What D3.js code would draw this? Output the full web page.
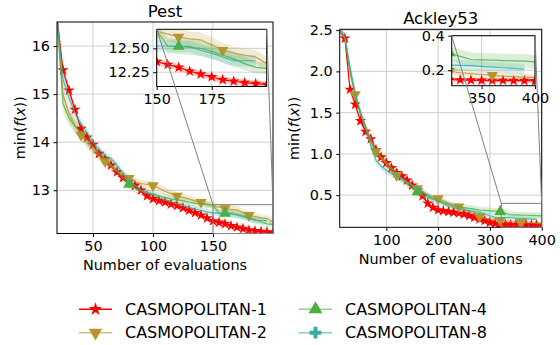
<!DOCTYPE html>
<html lang="en">
<head>
<meta charset="UTF-8">
<title>CASMOPOLITAN batch sizes</title>
<script src="https://cdn.jsdelivr.net/npm/d3@7"></script>
<style>
    body { margin: 0; background: #fff; }
    svg { display: block; font-family: "DejaVu Sans", sans-serif; }
    .tick text { font-size: 14.4px; fill: #000; }
    .tick line { stroke: #000; }
</style>
</head>
<body>
<script>
// ---- Pest: evaluations and mean of min f(x) for each batch size ----
const pestX = [20, 25, 30, 35, 40, 45, 50, 55, 60, 65, 70, 75, 80, 85, 90, 95, 100, 105, 110, 115,
    120, 125, 130, 135, 140, 145, 150, 155, 160, 165, 170, 175, 180, 185, 190, 195, 200];
const pestB1 = [16.6, 15.5, 15.08, 14.68, 14.28, 14.1, 13.95, 13.76, 13.65, 13.52, 13.38, 13.26, 13.18, 13.1, 13.0, 12.88, 12.82, 12.78, 12.75, 12.71,
    12.68, 12.63, 12.58, 12.53, 12.48, 12.42, 12.36, 12.33, 12.3, 12.26, 12.23, 12.2, 12.17, 12.155, 12.14, 12.13, 12.12];
const pestB2 = [16.6, 15.0, 14.6, 14.35, 14.15, 13.98, 13.85, 13.72, 13.6, 13.5, 13.4, 13.32, 13.25, 13.18, 13.14, 13.12, 13.1, 13.04, 12.98, 12.93,
    12.88, 12.85, 12.82, 12.78, 12.75, 12.71, 12.68, 12.65, 12.62, 12.6, 12.59, 12.535, 12.48, 12.45, 12.43, 12.41, 12.34];
const pestB4 = [16.6, 14.8, 14.5, 14.33, 14.2, 14.05, 13.9, 13.77, 13.65, 13.53, 13.42, 13.25, 13.12, 13.04, 12.98, 12.95, 12.92, 12.88, 12.85, 12.82,
    12.8, 12.78, 12.75, 12.73, 12.72, 12.7, 12.685, 12.525, 12.52, 12.51, 12.5, 12.47, 12.43, 12.39, 12.34, 12.3, 12.29];
const pestB8 = [16.6, 15.3, 14.92, 14.6, 14.38, 14.2, 14.0, 13.85, 13.72, 13.66, 13.52, 13.35, 13.22, 13.1, 13.0, 12.95, 12.9, 12.85, 12.8, 12.76,
    12.72, 12.68, 12.65, 12.61, 12.58, 12.55, 12.525, 12.525, 12.52, 12.52, 12.48, 12.45, 12.41, 12.37, 12.37, 12.37, null];
// half widths of the shaded bands
const pestErr1 = [0.1, 0.1, 0.09, 0.08, 0.08, 0.07, 0.06, 0.06, 0.05, 0.05, 0.05, 0.05, 0.04, 0.04, 0.04, 0.04, 0.04, 0.04, 0.04, 0.04,
    0.04, 0.04, 0.035, 0.035, 0.035, 0.035, 0.035, 0.035, 0.035, 0.035, 0.035, 0.035, 0.035, 0.035, 0.035, 0.035, 0.035];
const pestErr2 = [0.2, 0.18, 0.16, 0.14, 0.12, 0.11, 0.1, 0.1, 0.09, 0.09, 0.08, 0.08, 0.08, 0.08, 0.08, 0.08, 0.08, 0.08, 0.08, 0.08,
    0.08, 0.08, 0.07, 0.07, 0.07, 0.07, 0.07, 0.07, 0.08, 0.08, 0.08, 0.08, 0.08, 0.07, 0.07, 0.07, 0.07];
const pestErr4 = [0.2, 0.18, 0.16, 0.14, 0.13, 0.12, 0.11, 0.1, 0.1, 0.1, 0.1, 0.1, 0.09, 0.09, 0.08, 0.08, 0.08, 0.07, 0.07, 0.07,
    0.07, 0.07, 0.07, 0.07, 0.07, 0.07, 0.07, 0.08, 0.08, 0.08, 0.08, 0.08, 0.08, 0.08, 0.07, 0.06, 0.06];
const pestErr8 = [0.15, 0.14, 0.12, 0.11, 0.1, 0.09, 0.08, 0.08, 0.08, 0.08, 0.08, 0.07, 0.07, 0.07, 0.06, 0.06, 0.06, 0.06, 0.06, 0.06,
    0.06, 0.06, 0.06, 0.06, 0.06, 0.06, 0.06, 0.06, 0.06, 0.06, 0.06, 0.06, 0.06, 0.06, 0.06, 0.06, null];

// ---- Ackley53 ----
const ackX = [10, 20, 30, 40, 50, 60, 70, 80, 90, 100, 110, 120, 130, 140, 150, 160, 170, 180, 190, 200,
    210, 220, 230, 240, 250, 260, 270, 280, 290, 300, 310, 320, 330, 340, 350, 360, 370, 380, 390, 400];
const ackB1 = [2.5, 2.4, 1.78, 1.6, 1.4, 1.27, 1.18, 1.05, 0.96, 0.89, 0.83, 0.77, 0.73, 0.68, 0.62, 0.56, 0.49, 0.4, 0.35, 0.32,
    0.31, 0.3, 0.29, 0.28, 0.27, 0.25, 0.23, 0.21, 0.19, 0.17, 0.155, 0.145, 0.143, 0.142, 0.141, 0.14, 0.14, 0.139, 0.139, 0.138];
const ackB2 = [2.5, 2.4, 2.0, 1.72, 1.5, 1.33, 1.18, 1.03, 0.95, 0.88, 0.8, 0.74, 0.7, 0.66, 0.62, 0.58, 0.54, 0.5, 0.47, 0.46,
    0.43, 0.4, 0.38, 0.36, 0.33, 0.3, 0.27, 0.24, 0.22, 0.21, 0.2, 0.195, 0.185, 0.18, 0.175, 0.17, 0.165, 0.163, 0.16, 0.158];
const ackB4 = [2.5, 2.4, 2.0, 1.7, 1.5, 1.32, 1.15, 1.02, 0.96, 0.9, 0.83, 0.76, 0.7, 0.64, 0.58, 0.54, 0.5, 0.47, 0.45, 0.43,
    0.41, 0.39, 0.37, 0.36, 0.35, 0.34, 0.33, 0.32, 0.315, 0.31, 0.305, 0.3, 0.28, 0.262, 0.26, 0.258, 0.256, 0.254, 0.252, 0.248];
const ackB8 = [2.5, 2.42, 2.05, 1.72, 1.5, 1.3, 1.1, 0.92, 0.85, 0.8, 0.76, 0.73, 0.7, 0.66, 0.62, 0.58, 0.54, 0.5, 0.46, 0.43,
    0.4, 0.37, 0.35, 0.33, 0.32, 0.31, 0.3, 0.29, 0.27, 0.25, 0.23, 0.229, 0.228, 0.226, 0.222, 0.218, 0.214, 0.21, 0.206, null];
const ackErr1 = [0.03, 0.05, 0.05, 0.05, 0.04, 0.04, 0.04, 0.04, 0.03, 0.03, 0.03, 0.03, 0.03, 0.03, 0.03, 0.03, 0.03, 0.02, 0.02, 0.02,
    0.02, 0.02, 0.02, 0.02, 0.02, 0.02, 0.015, 0.015, 0.015, 0.012, 0.012, 0.012, 0.012, 0.012, 0.012, 0.012, 0.012, 0.012, 0.012, 0.012];
const ackErr2 = [0.03, 0.06, 0.06, 0.06, 0.05, 0.05, 0.05, 0.05, 0.04, 0.04, 0.04, 0.04, 0.04, 0.04, 0.03, 0.03, 0.03, 0.03, 0.03, 0.03,
    0.03, 0.03, 0.03, 0.03, 0.03, 0.025, 0.025, 0.025, 0.02, 0.02, 0.02, 0.02, 0.02, 0.02, 0.02, 0.02, 0.02, 0.02, 0.02, 0.02];
const ackErr4 = [0.03, 0.06, 0.06, 0.06, 0.06, 0.05, 0.05, 0.05, 0.05, 0.05, 0.05, 0.05, 0.05, 0.05, 0.04, 0.04, 0.04, 0.04, 0.04, 0.04,
    0.04, 0.04, 0.04, 0.04, 0.04, 0.04, 0.04, 0.04, 0.04, 0.04, 0.04, 0.04, 0.04, 0.04, 0.04, 0.04, 0.04, 0.04, 0.04, 0.04];
const ackErr8 = [0.03, 0.06, 0.06, 0.06, 0.05, 0.05, 0.05, 0.05, 0.05, 0.05, 0.04, 0.04, 0.04, 0.04, 0.04, 0.04, 0.04, 0.04, 0.03, 0.03,
    0.03, 0.03, 0.03, 0.03, 0.03, 0.03, 0.03, 0.03, 0.03, 0.03, 0.03, 0.03, 0.03, 0.03, 0.03, 0.03, 0.03, 0.03, 0.03, null];

// x positions that carry a marker
const pestMarks1 = [25, 30, 35, 40, 45, 50, 55, 60, 65, 70, 75, 80, 85, 90, 95, 100, 105, 110, 115, 120,
    125, 130, 135, 140, 145, 150, 155, 160, 165, 170, 175, 180, 185, 190, 195, 200];
const pestMarks2 = [40, 60, 80, 100, 120, 140, 160, 180];
const pestMarks4 = [80, 160];
const ackMarks1 = [20, 30, 40, 50, 60, 70, 80, 90, 100, 110, 120, 130, 140, 150, 160, 170, 180, 190, 200,
    210, 220, 230, 240, 250, 260, 270, 280, 290, 300, 310, 320, 330, 340, 350, 360, 370, 380, 390, 400];
const ackMarks2 = [40, 80, 120, 160, 200, 240, 280, 320, 360];
const ackMarks4 = [160, 320];

const seriesNames = ["CASMOPOLITAN-1", "CASMOPOLITAN-2", "CASMOPOLITAN-4", "CASMOPOLITAN-8"];
const pestTicksX = [50, 100, 150], pestTicksY = [13, 14, 15, 16];
const ackTicksX = [100, 200, 300, 400], ackTicksY = [0.5, 1.0, 1.5, 2.0, 2.5];

const colors = ["#ff0000", "#b8942f", "#4caf3c", "#36ad9f"];
const symbols = [
    { type: d3.symbolStar, size: 40, rot: 0 },
    { type: d3.symbolTriangle, size: 55, rot: 180 },
    { type: d3.symbolTriangle, size: 60, rot: 0 },
    { type: d3.symbolCross, size: 55, rot: 0 }
];

const svg = d3.select("body").append("svg")
    .attr("width", 560)
    .attr("height", 345);

let clipId = 0;

function drawAxes(g, box, xDom, yDom, xTicks, yTicks, fx, fy, series, inset) {
    const x = d3.scaleLinear().domain(xDom).range([box.l, box.r]);
    const y = d3.scaleLinear().domain(yDom).range([box.b, box.t]);

    if (inset) {
        g.append("rect").attr("x", box.l).attr("y", box.t)
            .attr("width", box.r - box.l).attr("height", box.b - box.t).attr("fill", "#fff");
    }

    // grid
    g.selectAll(null).data(xTicks).enter().append("line")
        .attr("x1", d => x(d)).attr("x2", d => x(d)).attr("y1", box.t).attr("y2", box.b)
        .attr("stroke", "#cfcfcf").attr("stroke-width", 1);
    g.selectAll(null).data(yTicks).enter().append("line")
        .attr("y1", d => y(d)).attr("y2", d => y(d)).attr("x1", box.l).attr("x2", box.r)
        .attr("stroke", "#cfcfcf").attr("stroke-width", 1);

    const id = "clip" + (clipId++);
    g.append("clipPath").attr("id", id).append("rect")
        .attr("x", box.l).attr("y", box.t).attr("width", box.r - box.l).attr("height", box.b - box.t);
    const plot = g.append("g").attr("clip-path", `url(#${id})`);

    series.forEach((s, i) => {
        const pts = s.xs.map((xv, k) => ({ x: xv, v: s.vals[k], e: s.err[k] }));
        const area = d3.area().defined(d => d.v != null)
            .x(d => x(d.x)).y0(d => y(d.v - d.e)).y1(d => y(d.v + d.e));
        plot.append("path").attr("d", area(pts)).attr("fill", colors[i]).attr("fill-opacity", 0.2);
    });
    series.forEach((s, i) => {
        const pts = s.xs.map((xv, k) => ({ x: xv, v: s.vals[k] }));
        const line = d3.line().defined(d => d.v != null).x(d => x(d.x)).y(d => y(d.v));
        plot.append("path").attr("d", line(pts)).attr("fill", "none")
            .attr("stroke", colors[i]).attr("stroke-width", 1.2)
            .attr("stroke-opacity", i === 0 ? 1 : 0.8);
        const sym = d3.symbol().type(symbols[i].type).size(symbols[i].size);
        const mk = pts.filter(d => s.marks.includes(d.x) && d.v != null);
        plot.selectAll(null).data(mk).enter().append("path")
            .attr("d", sym)
            .attr("transform", d => `translate(${x(d.x)},${y(d.v)}) rotate(${symbols[i].rot})`)
            .attr("fill", colors[i]);
    });

    // spines
    g.append("rect").attr("x", box.l).attr("y", box.t)
        .attr("width", box.r - box.l).attr("height", box.b - box.t)
        .attr("fill", "none").attr("stroke", "#000").attr("stroke-width", 1);

    const ax = g.append("g").attr("transform", `translate(0,${box.b})`)
        .call(d3.axisBottom(x).tickValues(xTicks).tickFormat(fx).tickSizeInner(3.5).tickSizeOuter(0).tickPadding(3.5));
    const ay = g.append("g").attr("transform", `translate(${box.l},0)`)
        .call(d3.axisLeft(y).tickValues(yTicks).tickFormat(fy).tickSizeInner(3.5).tickSizeOuter(0).tickPadding(3.5));
    [ax, ay].forEach(a => {
        a.select(".domain").remove();
        a.attr("font-family", null).attr("font-size", null);
    });
    return { x, y };
}

function ylabel(x, yc) {
    const t = svg.append("text")
        .attr("transform", `translate(${x},${yc}) rotate(-90)`)
        .attr("text-anchor", "middle").attr("dominant-baseline", "central")
        .style("font-size", "14.4px");
    t.append("tspan").text("min(");
    t.append("tspan").text("f").style("font-style", "italic");
    t.append("tspan").text("(");
    t.append("tspan").text("x").style("font-style", "italic");
    t.append("tspan").text("))");
}

function panel(cfg) {
    const g = svg.append("g");
    const main = drawAxes(g, cfg.box, cfg.xDom, cfg.yDom, cfg.xTicks, cfg.yTicks, cfg.fx, cfg.fy, cfg.series, false);

    // zoomed region on the main axes
    const ib = cfg.inset.box;
    const r = {
        l: main.x(cfg.inset.xDom[0]), r: main.x(cfg.inset.xDom[1]),
        t: main.y(cfg.inset.yDom[1]), b: main.y(cfg.inset.yDom[0])
    };
    g.append("rect").attr("x", r.l).attr("y", r.t).attr("width", r.r - r.l).attr("height", r.b - r.t)
        .attr("fill", "none").attr("stroke", "#808080").attr("stroke-width", 1);

    drawAxes(g, ib, cfg.inset.xDom, cfg.inset.yDom, cfg.inset.xTicks, cfg.inset.yTicks,
        cfg.inset.fx, cfg.inset.fy, cfg.series, true);

    g.append("line").attr("x1", ib.l).attr("y1", ib.t).attr("x2", r.l).attr("y2", r.t)
        .attr("stroke", "#808080").attr("stroke-width", 1);
    g.append("line").attr("x1", ib.r).attr("y1", ib.t).attr("x2", r.r).attr("y2", r.t)
        .attr("stroke", "#808080").attr("stroke-width", 1);

    const cx = (cfg.box.l + cfg.box.r) / 2;
    svg.append("text").attr("x", cx).attr("y", cfg.box.t - 5).attr("text-anchor", "middle")
        .style("font-size", "16.5px").text(cfg.title);
    svg.append("text").attr("x", cx).attr("y", cfg.box.b + 36.5).attr("text-anchor", "middle")
        .style("font-size", "14.4px").text("Number of evaluations");
    ylabel(cfg.ylabelX, (cfg.box.t + cfg.box.b) / 2);
}

const f0 = d3.format("d"), f1 = d3.format(".1f"), f2 = d3.format(".2f");

panel({
    title: "Pest",
    box: { l: 57, r: 273, t: 22, b: 233.5 },
    xDom: [20, 200], yDom: [12.1, 16.5],
    xTicks: pestTicksX, yTicks: pestTicksY, fx: f0, fy: f0,
    ylabelX: 20,
    series: [
        { xs: pestX, vals: pestB1, err: pestErr1, marks: pestMarks1 },
        { xs: pestX, vals: pestB2, err: pestErr2, marks: pestMarks2 },
        { xs: pestX, vals: pestB4, err: pestErr4, marks: pestMarks4 },
        { xs: pestX, vals: pestB8, err: pestErr8, marks: [] }
    ],
    inset: {
        box: { l: 156.7, r: 266.7, t: 29.3, b: 86.5 },
        xDom: [150, 200], yDom: [12.1, 12.7],
        xTicks: [150, 175], yTicks: [12.25, 12.5], fx: f0, fy: f2
    }
});

panel({
    title: "Ackley53",
    box: { l: 339.7, r: 541.7, t: 29.3, b: 227.3 },
    xDom: [10, 400], yDom: [0.11, 2.51],
    xTicks: ackTicksX, yTicks: ackTicksY, fx: f0, fy: f1,
    ylabelX: 293.5,
    series: [
        { xs: ackX, vals: ackB1, err: ackErr1, marks: ackMarks1 },
        { xs: ackX, vals: ackB2, err: ackErr2, marks: ackMarks2 },
        { xs: ackX, vals: ackB4, err: ackErr4, marks: ackMarks4 },
        { xs: ackX, vals: ackB8, err: ackErr8, marks: [] }
    ],
    inset: {
        box: { l: 451.7, r: 535, t: 35.7, b: 85.7 },
        xDom: [322, 400], yDom: [0.11, 0.4],
        xTicks: [350, 400], yTicks: [0.2, 0.4], fx: f0, fy: f1
    }
});

// Legend (two columns)
const legendPos = [[79, 309.3], [79, 332.7], [299, 309.3], [299, 332.7]];
seriesNames.forEach((name, i) => {
    const [lx, ly] = legendPos[i];
    const lg = svg.append("g");
    lg.append("line").attr("x1", lx).attr("x2", lx + 33).attr("y1", ly).attr("y2", ly)
        .attr("stroke", colors[i]).attr("stroke-width", 1.5).attr("stroke-opacity", i === 0 ? 1 : 0.6);
    lg.append("path")
        .attr("d", d3.symbol().type(symbols[i].type).size(symbols[i].size * 1.4))
        .attr("transform", `translate(${lx + 16.5},${ly}) rotate(${symbols[i].rot})`)
        .attr("fill", colors[i]);
    lg.append("text").attr("x", lx + 46).attr("y", ly).attr("dominant-baseline", "central")
        .style("font-size", "16px").text(name);
});
</script>
</body>
</html>
